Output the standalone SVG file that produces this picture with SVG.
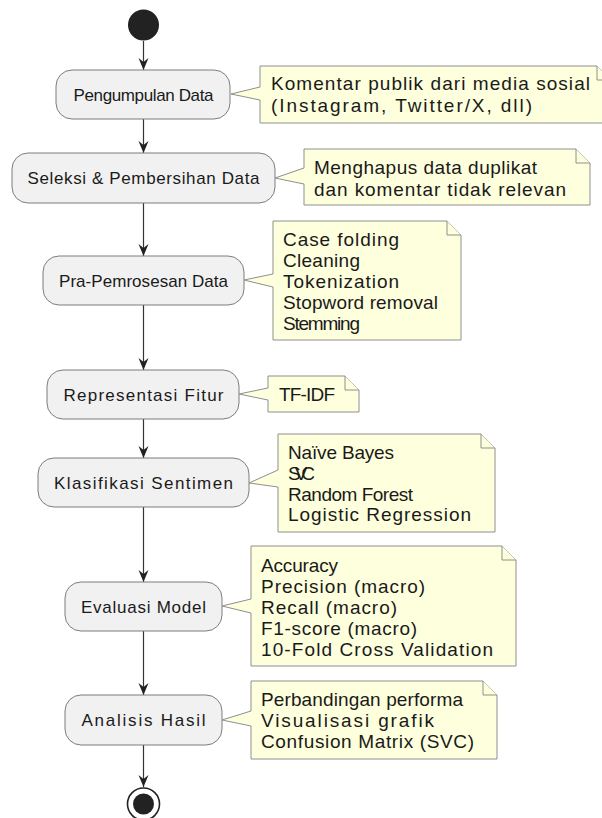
<svg xmlns="http://www.w3.org/2000/svg" width="602" height="818" viewBox="0 0 602 818">
<defs>
<style>
.node rect{fill:#F1F1F1;stroke:#7d7d7d;stroke-width:1}
.node text{font-family:"Liberation Sans",Arial,sans-serif;font-size:17px;fill:#1a1a1a;text-anchor:middle}
.note path{fill:#FEFFDD;stroke:#8f8f8f;stroke-width:1}
.note text{font-family:"Liberation Sans",Arial,sans-serif;font-size:19px;fill:#1a1a1a}
.edge{stroke:#333;stroke-width:1.2;fill:none;marker-end:url(#ah)}
</style>
<marker id="ah" markerUnits="userSpaceOnUse" markerWidth="13" markerHeight="11" refX="12" refY="5" orient="auto">
<path d="M0,0 L12,5 L0,10 L4,5 Z" fill="#222"/>
</marker>
</defs>
<rect width="602" height="818" fill="#fff"/>

<g id="connectors">
<line class="edge" x1="143.5" y1="41" x2="143.5" y2="70"/>
<line class="edge" x1="143.5" y1="119" x2="143.5" y2="153"/>
<line class="edge" x1="143.5" y1="203" x2="143.5" y2="256"/>
<line class="edge" x1="143.5" y1="305" x2="143.5" y2="370"/>
<line class="edge" x1="143.5" y1="419" x2="143.5" y2="458"/>
<line class="edge" x1="143.5" y1="507" x2="143.5" y2="582"/>
<line class="edge" x1="143.5" y1="631" x2="143.5" y2="695"/>
<line class="edge" x1="143.5" y1="745" x2="143.5" y2="787"/>
</g>

<g id="start"><circle cx="143.5" cy="25" r="15.5" fill="#222"/></g>
<g id="end"><circle cx="143.5" cy="804" r="16" fill="#fff" stroke="#222" stroke-width="1.6"/><circle cx="143.5" cy="804" r="10.5" fill="#222"/></g>

<g id="n1" class="node"><rect x="56" y="70" width="174" height="49" rx="16"/><text x="143.5" y="100.5" textLength="140">Pengumpulan Data</text></g>
<g id="n2" class="node"><rect x="12" y="153" width="263" height="50" rx="16"/><text x="143.5" y="184" textLength="232">Seleksi &amp; Pembersihan Data</text></g>
<g id="n3" class="node"><rect x="43" y="256" width="201" height="49" rx="16"/><text x="143.5" y="286.5" textLength="169">Pra-Pemrosesan Data</text></g>
<g id="n4" class="node"><rect x="47" y="370" width="192" height="49" rx="16"/><text x="143.5" y="400.5" textLength="160">Representasi Fitur</text></g>
<g id="n5" class="node"><rect x="38" y="458" width="211" height="49" rx="16"/><text x="143.5" y="488.5" textLength="179">Klasifikasi Sentimen</text></g>
<g id="n6" class="node"><rect x="65" y="582" width="157" height="49" rx="16"/><text x="143.5" y="612.5" textLength="125">Evaluasi Model</text></g>
<g id="n7" class="node"><rect x="65" y="695" width="157" height="50" rx="16"/><text x="143.5" y="726" textLength="124">Analisis Hasil</text></g>

<g id="note1" class="note">
<path d="M260,66 L597,66 L611,80 L611,123 L260,123 L260,100 L231,94 L260,87 Z"/>
<path d="M597,66 L597,80 L611,80" fill="none"/>
<text x="271" y="90" textLength="319">Komentar publik dari media sosial</text>
<text x="271" y="112" textLength="261">(Instagram, Twitter/X, dll)</text>
</g>
<g id="note2" class="note">
<path d="M304,149 L576,149 L590,163 L590,205 L304,205 L304,184 L275,178 L304,168 Z"/>
<path d="M576,149 L576,163 L590,163" fill="none"/>
<text x="314" y="174" textLength="223">Menghapus data duplikat</text>
<text x="314" y="196" textLength="252">dan komentar tidak relevan</text>
</g>
<g id="note3" class="note">
<path d="M273,221 L447,221 L461,235 L461,340 L273,340 L273,287 L244,280 L273,274 Z"/>
<path d="M447,221 L447,235 L461,235" fill="none"/>
<text x="283" y="246" textLength="116">Case folding</text>
<text x="283" y="267" textLength="77">Cleaning</text>
<text x="283" y="288" textLength="116">Tokenization</text>
<text x="283" y="309" textLength="155">Stopword removal</text>
<text x="283" y="330" textLength="77">Stemming</text>
</g>
<g id="note4" class="note">
<path d="M268,376 L345,376 L359,390 L359,412 L268,412 L268,400 L239,394 L268,388 Z"/>
<path d="M345,376 L345,390 L359,390" fill="none"/>
<text x="279" y="401" textLength="56">TF-IDF</text>
</g>
<g id="note5" class="note">
<path d="M278,434 L481,434 L495,448 L495,532 L278,532 L278,487 L249,483 L278,470 Z"/>
<path d="M481,434 L481,448 L495,448" fill="none"/>
<text x="288" y="459" textLength="106">Naïve Bayes</text>
<text x="288" y="480" textLength="27">SVC</text>
<text x="288" y="500.5" textLength="125">Random Forest</text>
<text x="288" y="521" textLength="183">Logistic Regression</text>
</g>
<g id="note6" class="note">
<path d="M251,546 L502,546 L516,560 L516,666 L251,666 L251,613 L222,606 L251,599 Z"/>
<path d="M502,546 L502,560 L516,560" fill="none"/>
<text x="261" y="572" textLength="77">Accuracy</text>
<text x="261" y="593" textLength="164">Precision (macro)</text>
<text x="261" y="614" textLength="136">Recall (macro)</text>
<text x="261" y="635" textLength="156">F1-score (macro)</text>
<text x="261" y="656" textLength="232">10-Fold Cross Validation</text>
</g>
<g id="note7" class="note">
<path d="M251,681 L483,681 L497,695 L497,759 L251,759 L251,726 L222,720 L251,711 Z"/>
<path d="M483,681 L483,695 L497,695" fill="none"/>
<text x="261" y="706" textLength="202">Perbandingan performa</text>
<text x="261" y="727" textLength="173">Visualisasi grafik</text>
<text x="261" y="748" textLength="213">Confusion Matrix (SVC)</text>
</g>
</svg>
